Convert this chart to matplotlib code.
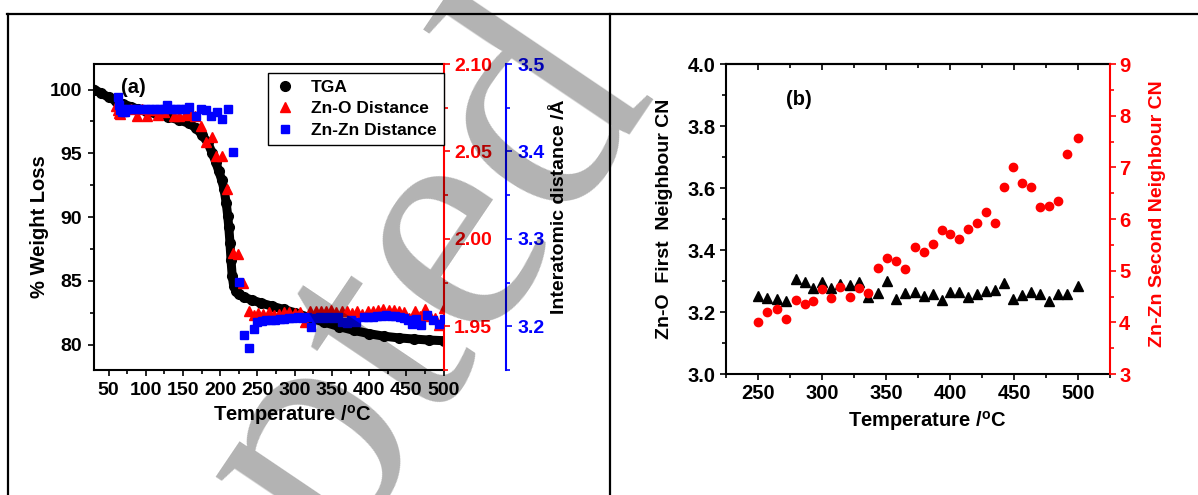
import matplotlib
matplotlib.use('Agg')
import matplotlib.pyplot as plt
from matplotlib.lines import Line2D
from matplotlib.ticker import MultipleLocator

plt.rcParams['font.family'] = ['Liberation Sans', 'DejaVu Sans']
plt.rcParams['font.weight'] = 'bold'
plt.rcParams['axes.labelweight'] = 'bold'
plt.rcParams['mathtext.fontset'] = 'custom'
plt.rcParams['mathtext.rm'] = 'Liberation Sans:bold'
plt.rcParams['mathtext.default'] = 'rm'
plt.rcParams['axes.linewidth'] = 1.5

# ---------------- (a) TGA + interatomic distances ----------------
tga_temp = [31, 40, 50, 60, 70, 80, 90, 100, 115, 130, 145, 158, 168, 176, 183,
            189, 194, 198, 202, 205, 208, 210, 211.5, 213, 214.5, 216, 218, 221,
            225, 232, 242, 255, 270, 285, 300, 320, 340, 360, 380, 400, 420, 440,
            460, 480, 500]
tga_weight = [100.0, 99.7, 99.4, 99.1, 98.85, 98.65, 98.45, 98.3, 98.05, 97.85,
              97.6, 97.35, 96.95, 96.4, 95.85, 95.05, 94.3, 93.6, 92.9, 92.2,
              91.1, 90.1, 89.2, 88.0, 86.6, 85.4, 84.6, 84.2, 83.95, 83.7, 83.5,
              83.25, 83.0, 82.75, 82.5, 82.1, 81.75, 81.4, 81.1, 80.85, 80.65,
              80.52, 80.43, 80.35, 80.3]

zno_temp = [60, 62, 64, 66, 70, 80, 88, 95, 102, 110, 117, 124, 131, 138, 145,
            152, 159, 166, 174, 181, 189, 194, 202, 209, 217, 224, 231,
            238, 245, 251, 258, 265, 272, 279, 286, 293, 300, 307, 314, 321, 328,
            335, 342, 349, 356, 363, 370, 377, 384, 391, 398, 405, 412, 419, 426,
            433, 440, 447, 454, 461, 468, 475, 482, 489, 494, 500]
zno_dist = [2.0760, 2.0735, 2.0718, 2.0715, 2.0730, 2.0745, 2.0702, 2.0740,
            2.0702, 2.0735, 2.0708, 2.0725, 2.0746, 2.0704, 2.0704, 2.0710,
            2.0715, 2.0702, 2.0645, 2.0555, 2.0584, 2.0473, 2.0473, 2.0283,
            1.9922, 1.9912, 1.9748,
            1.9586, 1.9567, 1.9575, 1.9570, 1.9580, 1.9565, 1.9569, 1.9580,
            1.9582, 1.9575, 1.9582, 1.9525, 1.9585, 1.9590, 1.9588, 1.9590,
            1.9592, 1.9582, 1.9585, 1.9590, 1.9575, 1.9590, 1.9570, 1.9585,
            1.9590, 1.9595, 1.9598, 1.9596, 1.9592, 1.9590, 1.9580, 1.9550,
            1.9585, 1.9560, 1.9600, 1.9560, 1.9545, 1.9505, 1.9602]

znzn_temp = [62, 64, 66, 68, 70, 72, 76, 82, 88, 94, 100, 106, 112, 118, 124,
             128, 134, 140, 146, 152, 158, 167, 174, 181, 188, 195, 202, 211,
             217, 225, 232, 239, 245, 250, 256, 262, 268, 274, 280, 286, 292,
             298, 304, 310, 316, 322, 328, 334, 340, 346, 352, 358, 364, 370,
             376, 382, 393, 399, 405, 411, 417, 423, 429, 435, 441, 447, 452,
             457, 463, 470, 478, 486, 494, 500]
znzn_dist = [3.4625, 3.4530, 3.4470, 3.4454, 3.4490, 3.4454, 3.4490, 3.4490,
             3.4490, 3.4490, 3.4490, 3.4490, 3.4490, 3.4490, 3.4490, 3.4530,
             3.4490, 3.4490, 3.4490, 3.4490, 3.4510, 3.4404, 3.4490, 3.4470,
             3.4404, 3.4447, 3.4367, 3.4480, 3.3992, 3.2506, 3.1896, 3.1755,
             3.1972, 3.2048, 3.2060, 3.2068, 3.2075, 3.2070, 3.2080, 3.2085,
             3.2095, 3.2100, 3.2105, 3.2100, 3.2105, 3.1990, 3.2095, 3.2105,
             3.2100, 3.2105, 3.2100, 3.2110, 3.2045, 3.2040, 3.2070, 3.2048,
             3.2105, 3.2110, 3.2105, 3.2120, 3.2115, 3.2125, 3.2120, 3.2115,
             3.2105, 3.2090, 3.2070, 3.2030, 3.2080, 3.2010, 3.2125, 3.2068,
             3.2030, 3.2080]

# ---------------- (b) coordination numbers ----------------
cn_temp = [250, 257, 265, 272, 280, 287, 293, 300, 307, 314, 322, 329, 336,
           344, 351, 358, 365, 373, 380, 387, 394, 400, 407, 414, 421, 428,
           435, 442, 449, 456, 463, 470, 477, 484, 491, 500]
zno_cn = [3.252, 3.244, 3.241, 3.235, 3.306, 3.296, 3.278, 3.296, 3.278, 3.289,
          3.287, 3.296, 3.249, 3.260, 3.300, 3.242, 3.260, 3.265, 3.252, 3.258,
          3.239, 3.264, 3.264, 3.249, 3.258, 3.269, 3.271, 3.295, 3.241, 3.255,
          3.264, 3.258, 3.236, 3.257, 3.257, 3.284]
znzn_cn = [4.00, 4.21, 4.25, 4.06, 4.43, 4.36, 4.41, 4.65, 4.48, 4.68, 4.50,
           4.66, 4.56, 5.05, 5.24, 5.19, 5.03, 5.45, 5.36, 5.52, 5.79, 5.71,
           5.61, 5.81, 5.92, 6.14, 5.93, 6.61, 7.01, 6.69, 6.62, 6.23, 6.25,
           6.34, 7.26, 7.56]

fig = plt.figure(figsize=(11.98, 4.95), dpi=100)

# panel (a)
ax1 = fig.add_axes([0.0782, 0.2525, 0.2921, 0.6182])
ax1.set_facecolor('none')
ax1.plot(tga_temp, tga_weight, 'o-', color='black', lw=6.5, ms=7, zorder=2)
ax1.set_xlim(30, 500)
ax1.set_ylim(78, 102)
ax1.xaxis.set_major_locator(MultipleLocator(50))
ax1.xaxis.set_minor_locator(MultipleLocator(25))
ax1.yaxis.set_major_locator(MultipleLocator(5))
ax1.yaxis.set_minor_locator(MultipleLocator(2.5))
ax1.tick_params(which='both', direction='out', width=1.2, labelsize=14,
                top=False, right=False, pad=4)
ax1.tick_params(which='major', length=4.5)
ax1.tick_params(which='minor', length=3)
ax1.spines['right'].set_visible(False)
ax1.set_ylabel('% Weight Loss', fontsize=14.5)
ax1.yaxis.set_label_coords(-0.127, 0.47)
ax1.set_xlabel('Temperature /$^{o}$C', fontsize=14.5)
ax1.xaxis.set_label_coords(0.568, -0.108)
ax1.text(0.078, 0.955, '(a)', transform=ax1.transAxes, fontsize=14.5,
         ha='left', va='top')

ax2 = ax1.twinx()
ax2.set_facecolor('none')
ax2.plot(zno_temp, zno_dist, '^', color='red', ms=7, ls='none')
ax2.set_ylim(1.925, 2.10)
ax2.yaxis.set_major_locator(MultipleLocator(0.05))
ax2.yaxis.set_minor_locator(MultipleLocator(0.025))
ax2.yaxis.set_major_formatter(matplotlib.ticker.FormatStrFormatter('%.2f'))
for s in ['left', 'top', 'bottom']:
    ax2.spines[s].set_visible(False)
ax2.spines['right'].set_color('red')
ax2.tick_params(axis='y', which='both', colors='red', direction='out',
                width=1.2, labelsize=14, pad=3)
ax2.tick_params(axis='y', which='major', length=4.5)
ax2.tick_params(axis='y', which='minor', length=3)

ax3 = ax1.twinx()
ax3.set_facecolor('none')
ax3.plot(znzn_temp, znzn_dist, 's', color='blue', ms=5.5, ls='none')
ax3.set_ylim(3.15, 3.5)
ax3.yaxis.set_major_locator(MultipleLocator(0.1))
ax3.yaxis.set_minor_locator(MultipleLocator(0.05))
ax3.yaxis.set_major_formatter(matplotlib.ticker.FormatStrFormatter('%.1f'))
for s in ['left', 'top', 'bottom']:
    ax3.spines[s].set_visible(False)
ax3.spines['right'].set_position(('axes', 1.178))
ax3.spines['right'].set_color('blue')
ax3.tick_params(axis='y', which='both', colors='blue', direction='out',
                width=1.2, labelsize=14, pad=4)
ax3.tick_params(axis='y', which='major', length=4.5)
ax3.tick_params(axis='y', which='minor', length=3)
ax3.set_ylabel('Interatomic distance /Å', fontsize=14, color='black')
ax3.yaxis.set_label_coords(1.307, 0.534)

handles = [Line2D([], [], marker='o', color='black', ls='none', ms=7),
           Line2D([], [], marker='^', color='red', ls='none', ms=7),
           Line2D([], [], marker='s', color='blue', ls='none', ms=6)]
leg = ax3.legend(handles, ['TGA', 'Zn-O Distance', 'Zn-Zn Distance'],
                 loc='upper right', bbox_to_anchor=(1.0, 0.972),
                 fontsize=12.5, frameon=True, fancybox=False, framealpha=1,
                 edgecolor='black', borderpad=0.4, labelspacing=0.38,
                 handletextpad=0.9, handlelength=1.2, borderaxespad=0)
leg.get_frame().set_linewidth(1.0)

# panel (b)
axb = fig.add_axes([0.606, 0.2444, 0.3206, 0.6263])
axb.set_facecolor('none')
axb.plot(cn_temp, zno_cn, '^', color='black', ms=6.5, ls='none')
axb.set_xlim(225, 525)
axb.set_ylim(3.0, 4.0)
axb.xaxis.set_major_locator(MultipleLocator(50))
axb.xaxis.set_minor_locator(MultipleLocator(25))
axb.yaxis.set_major_locator(MultipleLocator(0.2))
axb.yaxis.set_minor_locator(MultipleLocator(0.1))
axb.yaxis.set_major_formatter(matplotlib.ticker.FormatStrFormatter('%.1f'))
axb.tick_params(which='both', direction='out', width=1.2, labelsize=14.5,
                top=False, right=False, pad=3)
axb.tick_params(which='major', length=4.5)
axb.tick_params(which='minor', length=3)
axb.spines['right'].set_visible(False)
axb.set_ylabel('Zn-O  First  Neighbour CN', fontsize=14)
axb.yaxis.set_label_coords(-0.139, 0.502)
axb.set_xlabel('Temperature /$^{o}$C', fontsize=14.5)
axb.xaxis.set_label_coords(0.524, -0.112)
axb.text(0.155, 0.915, '(b)', transform=axb.transAxes, fontsize=14.5,
         ha='left', va='top')

top = axb.secondary_xaxis('top')
top.xaxis.set_major_locator(MultipleLocator(50))
top.xaxis.set_minor_locator(MultipleLocator(25))
top.tick_params(which='both', direction='in', width=1.2, labeltop=False)
top.tick_params(which='major', length=4.5)
top.tick_params(which='minor', length=3)

axb2 = axb.twinx()
axb2.set_facecolor('none')
axb2.plot(cn_temp, znzn_cn, 'o', color='red', ms=6, ls='none')
axb2.set_ylim(3, 9)
axb2.yaxis.set_major_locator(MultipleLocator(1))
axb2.yaxis.set_minor_locator(MultipleLocator(0.5))
for s in ['left', 'top', 'bottom']:
    axb2.spines[s].set_visible(False)
axb2.spines['right'].set_color('red')
axb2.tick_params(axis='y', which='both', colors='red', direction='out',
                 width=1.2, labelsize=14.5, pad=2)
axb2.tick_params(axis='y', which='major', length=4.5)
axb2.tick_params(axis='y', which='minor', length=3)
axb2.set_ylabel('Zn-Zn Second Neighbour CN', fontsize=14, color='red')
axb2.yaxis.set_label_coords(1.102, 0.518)

# page frame lines
frame_kw = dict(transform=fig.transFigure, color='black', lw=1.6)
fig.add_artist(Line2D([0.0058, 1.0], [0.9717, 0.9717], **frame_kw))
fig.add_artist(Line2D([0.0068, 0.0068], [0.0, 0.9717], **frame_kw))
fig.add_artist(Line2D([0.509, 0.509], [0.0, 0.9717], **frame_kw))

# watermark
fig.text(0.201, -0.141, 'Accepted', family='Liberation Serif', fontweight='normal',
         fontsize=238, color='black', alpha=0.3, rotation=56,
         rotation_mode='anchor', ha='center', va='center', zorder=10)

fig.savefig('out.png', dpi=100)
